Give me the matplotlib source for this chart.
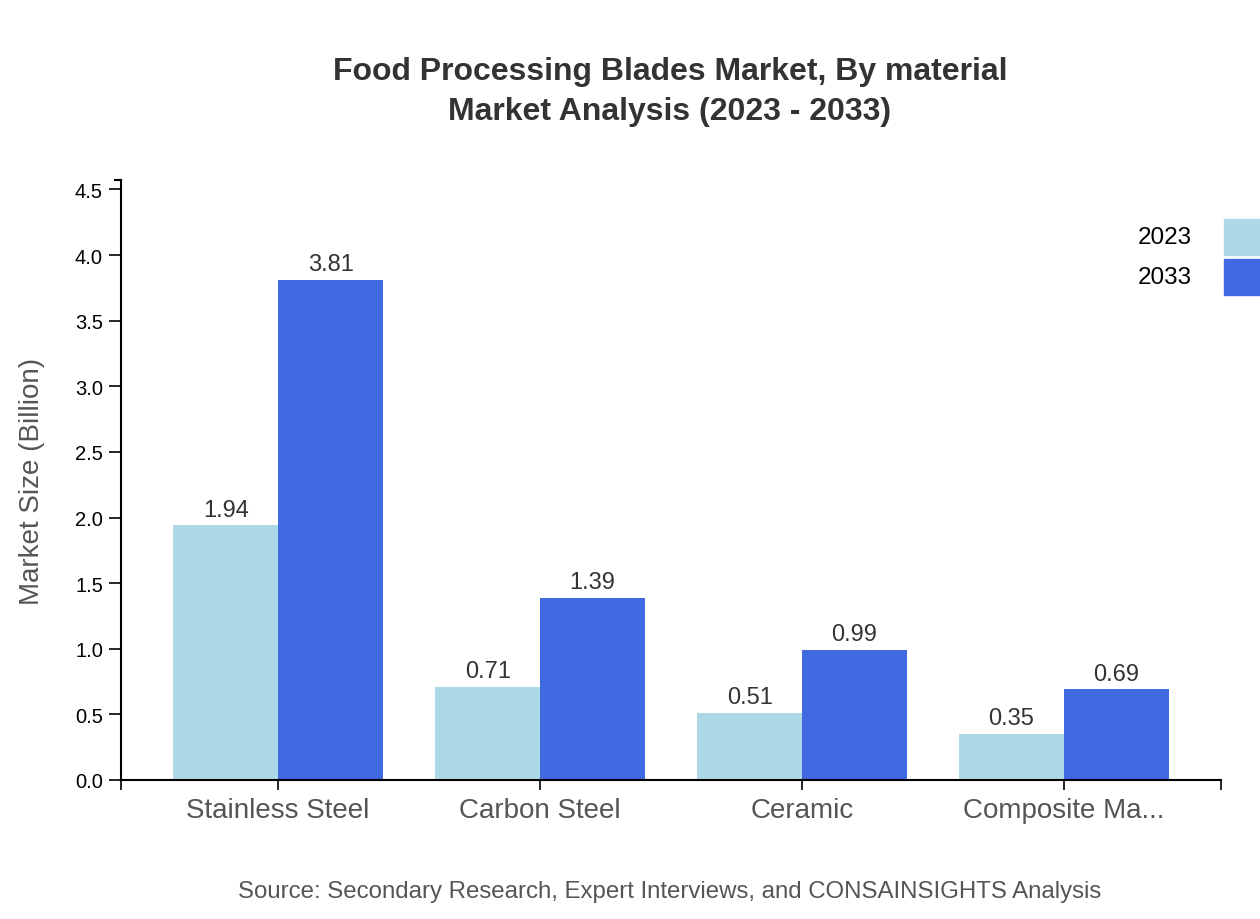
import matplotlib
matplotlib.use("Agg")
import matplotlib.pyplot as plt
from matplotlib.patches import Rectangle
import numpy as np

plt.rcParams['font.family'] = ['Liberation Sans', 'DejaVu Sans']

materials = ["Stainless Steel", "Carbon Steel", "Ceramic", "Composite Ma..."]
years = ["2023", "2033"]
size_2023 = [1.94, 0.71, 0.51, 0.35]
size_2033 = [3.81, 1.39, 0.99, 0.69]
colors = ["#add8e6", "#4169e1"]

fig = plt.figure(figsize=(12.6, 9.2), dpi=100)
ax = fig.add_axes([121 / 1260, 139 / 920, 1100 / 1260, 600 / 920])

# band scale like d3, padding 0.2
n = len(materials)
pad = 0.2
step = 1.0 / (n + pad)
band = step * (1 - pad)
x = np.arange(n)
centers = pad * step + x * step + band / 2
half = band / 2

series = [size_2023, size_2033]
for i, vals in enumerate(series):
    xs = centers - half / 2 + i * half
    ax.bar(xs, vals, width=half, color=colors[i], linewidth=0)
    for xx, v in zip(xs, vals):
        ax.text(xx, v + 0.035, f"{v:.2f}", ha="center", va="bottom",
                fontsize=17, color="#333333")

ymax = max(size_2033) * 1.2
ticks = np.arange(0, 4.6, 0.5)
ax.set_xlim(0, 1)
ax.set_ylim(0, ymax)
ax.set_yticks(ticks)
ax.set_yticklabels([f"{t:.1f}" for t in ticks], fontsize=14.5)
ax.set_xticks(list(centers) + [0, 1])
ax.set_xticklabels(materials + ["", ""], fontsize=20, color="#555555")
ax.tick_params(axis="x", length=7, width=1.2, pad=5)
ax.tick_params(axis="y", length=9, width=1.2, pad=4)

for s in ["top", "right"]:
    ax.spines[s].set_visible(False)
ax.spines["left"].set_linewidth(1.5)
ax.spines["bottom"].set_linewidth(1.5)
# d3 domain end tick at top of y axis
ax.plot([-0.0055, 0], [ymax, ymax], color="black", lw=1.5, clip_on=False)

ax.set_ylabel("Market Size (Billion)", fontsize=20, color="#555555")
ax.yaxis.set_label_coords(-(121 - 45) / 1100, 0.5)

fig.text(670 / 1260, 1 - 72 / 920, "Food Processing Blades Market, By material",
         ha="center", va="center", fontsize=23, fontweight="bold", color="#333333")
fig.text(670 / 1260, 1 - 112 / 920, "Market Analysis (2023 - 2033)",
         ha="center", va="center", fontsize=23, fontweight="bold", color="#333333")

# legend at top right, partly cut off by the edge
for i, yr in enumerate(years):
    top = 220 + i * 40
    fig.patches.append(Rectangle((1224 / 1260, 1 - (top + 36) / 920), 40 / 1260, 36 / 920,
                                 transform=fig.transFigure, color=colors[i]))
    fig.text(1192 / 1260, 1 - (top + 18) / 920, yr, ha="right", va="center",
             fontsize=17.5, color="black")

fig.text(670 / 1260, 1 - 892 / 920,
         "Source: Secondary Research, Expert Interviews, and CONSAINSIGHTS Analysis",
         ha="center", va="center", fontsize=17.3, color="#555555")

fig.savefig("out.png", dpi=100)
